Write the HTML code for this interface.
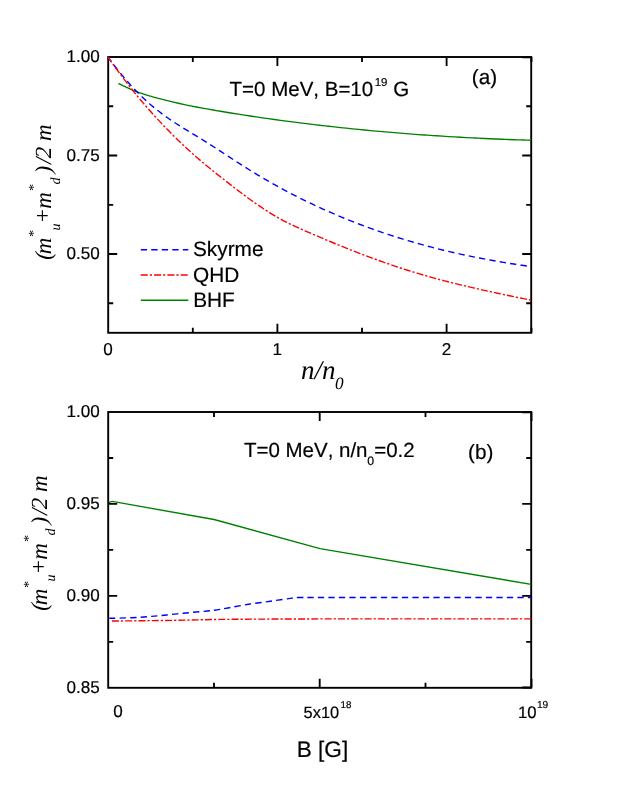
<!DOCTYPE html>
<html><head><meta charset="utf-8"><title>chart</title>
<style>
html,body{margin:0;padding:0;background:#fff;}
svg{display:block;will-change:transform;}
text{font-family:"Liberation Sans",sans-serif;fill:#000;font-kerning:none;text-rendering:geometricPrecision;stroke:#000;stroke-width:0.18px;}
.ser,.ser text{font-family:"Liberation Serif",serif;font-style:italic;font-weight:normal;stroke:none;}
.fr{fill:none;stroke:#000;stroke-width:1.9;stroke-linejoin:miter;}
.tk{stroke:#000;stroke-width:1.85;fill:none;}
.g{fill:none;stroke:#008000;stroke-width:1.35;}
.b{fill:none;stroke:#0000ff;stroke-width:1.4;stroke-dasharray:6.3 4.2;}
.r{fill:none;stroke:#ff0000;stroke-width:1.4;stroke-dasharray:7 2 2.2 2.1;}
</style></head><body>
<svg width="623" height="806" viewBox="0 0 623 806">
<rect x="0" y="0" width="623" height="806" fill="#fff"/>
<clipPath id="c1"><rect x="107.2" y="56.0" width="425.00000000000006" height="277.8"/></clipPath>
<rect class="fr" x="108.2" y="57.0" width="423.0" height="275.8"/>
<g clip-path="url(#c1)">
<path class="g" d="M118.40,83.34C119.40,83.86 122.40,85.46 124.40,86.43C126.40,87.40 128.40,88.30 130.40,89.16C132.40,90.02 134.40,90.81 136.40,91.57C138.40,92.33 140.40,93.03 142.40,93.71C144.40,94.39 146.40,95.02 148.40,95.63C150.40,96.24 152.40,96.81 154.40,97.36C156.40,97.91 158.40,98.44 160.40,98.96C162.40,99.48 164.40,99.98 166.40,100.47C168.40,100.96 170.40,101.44 172.40,101.90C174.40,102.37 176.40,102.82 178.40,103.26C180.40,103.70 182.40,104.14 184.40,104.56C186.40,104.98 188.40,105.39 190.40,105.79C192.40,106.19 194.40,106.59 196.40,106.98C198.40,107.37 200.40,107.74 202.40,108.11C204.40,108.48 206.40,108.84 208.40,109.20C210.40,109.56 212.40,109.91 214.40,110.25C216.40,110.59 218.40,110.94 220.40,111.27C222.40,111.60 224.40,111.93 226.40,112.26C228.40,112.59 230.40,112.91 232.40,113.23C234.40,113.55 236.40,113.87 238.40,114.18C240.40,114.50 242.40,114.81 244.40,115.12C246.40,115.43 248.40,115.73 250.40,116.03C252.40,116.33 254.40,116.62 256.40,116.92C258.40,117.22 260.40,117.51 262.40,117.80C264.40,118.09 266.40,118.38 268.40,118.66C270.40,118.94 272.40,119.22 274.40,119.50C276.40,119.78 278.40,120.05 280.40,120.32C282.40,120.59 284.40,120.86 286.40,121.12C288.40,121.39 290.40,121.65 292.40,121.91C294.40,122.17 296.40,122.42 298.40,122.67C300.40,122.92 302.40,123.18 304.40,123.43C306.40,123.68 308.40,123.92 310.40,124.16C312.40,124.40 314.40,124.64 316.40,124.88C318.40,125.11 320.40,125.34 322.40,125.57C324.40,125.80 326.40,126.03 328.40,126.26C330.40,126.49 332.40,126.70 334.40,126.92C336.40,127.14 338.40,127.36 340.40,127.57C342.40,127.78 344.40,127.99 346.40,128.20C348.40,128.41 350.40,128.62 352.40,128.82C354.40,129.02 356.40,129.22 358.40,129.42C360.40,129.62 362.40,129.81 364.40,130.00C366.40,130.19 368.40,130.38 370.40,130.57C372.40,130.76 374.40,130.94 376.40,131.12C378.40,131.30 380.40,131.48 382.40,131.66C384.40,131.84 386.40,132.01 388.40,132.18C390.40,132.35 392.40,132.52 394.40,132.68C396.40,132.84 398.40,133.01 400.40,133.17C402.40,133.33 404.40,133.48 406.40,133.64C408.40,133.79 410.40,133.95 412.40,134.10C414.40,134.25 416.40,134.40 418.40,134.55C420.40,134.70 422.40,134.84 424.40,134.98C426.40,135.12 428.40,135.25 430.40,135.39C432.40,135.52 434.40,135.66 436.40,135.79C438.40,135.92 440.40,136.05 442.40,136.18C444.40,136.31 446.40,136.43 448.40,136.55C450.40,136.67 452.40,136.79 454.40,136.91C456.40,137.03 458.40,137.14 460.40,137.25C462.40,137.36 464.40,137.47 466.40,137.58C468.40,137.69 470.40,137.79 472.40,137.89C474.40,137.99 476.40,138.10 478.40,138.20C480.40,138.30 482.40,138.40 484.40,138.49C486.40,138.58 488.40,138.67 490.40,138.76C492.40,138.85 494.40,138.94 496.40,139.02C498.40,139.11 500.40,139.19 502.40,139.27C504.40,139.35 506.40,139.43 508.40,139.51C510.40,139.59 512.40,139.66 514.40,139.73C516.40,139.80 518.40,139.87 520.40,139.94C522.40,140.01 524.58,140.08 526.40,140.14C528.22,140.20 530.48,140.26 531.30,140.29"/>
<path class="b" d="M107.50,56.59C108.50,57.91 111.50,61.93 113.50,64.51C115.50,67.09 117.50,69.62 119.50,72.07C121.50,74.52 123.50,76.91 125.50,79.23C127.50,81.55 129.50,83.80 131.50,85.98C133.50,88.16 135.50,90.28 137.50,92.31C139.50,94.34 141.50,96.30 143.50,98.19C145.50,100.08 147.50,101.91 149.50,103.66C151.50,105.41 153.50,107.10 155.50,108.72C157.50,110.34 159.50,111.90 161.50,113.40C163.50,114.91 165.50,116.35 167.50,117.75C169.50,119.15 171.50,120.50 173.50,121.82C175.50,123.14 177.50,124.42 179.50,125.68C181.50,126.94 183.50,128.18 185.50,129.40C187.50,130.62 189.50,131.82 191.50,133.03C193.50,134.24 195.50,135.44 197.50,136.65C199.50,137.87 201.50,139.08 203.50,140.32C205.50,141.56 207.50,142.82 209.50,144.10C211.50,145.38 213.50,146.67 215.50,147.97C217.50,149.27 219.50,150.59 221.50,151.90C223.50,153.21 225.50,154.54 227.50,155.85C229.50,157.16 231.50,158.48 233.50,159.78C235.50,161.08 237.50,162.38 239.50,163.66C241.50,164.94 243.50,166.22 245.50,167.47C247.50,168.72 249.50,169.96 251.50,171.18C253.50,172.40 255.50,173.62 257.50,174.81C259.50,176.00 261.50,177.18 263.50,178.35C265.50,179.52 267.50,180.67 269.50,181.81C271.50,182.95 273.50,184.08 275.50,185.19C277.50,186.30 279.50,187.40 281.50,188.48C283.50,189.56 285.50,190.63 287.50,191.69C289.50,192.75 291.50,193.79 293.50,194.82C295.50,195.85 297.50,196.87 299.50,197.87C301.50,198.88 303.50,199.87 305.50,200.85C307.50,201.83 309.50,202.79 311.50,203.74C313.50,204.69 315.50,205.63 317.50,206.56C319.50,207.49 321.50,208.41 323.50,209.31C325.50,210.21 327.50,211.10 329.50,211.98C331.50,212.86 333.50,213.73 335.50,214.58C337.50,215.44 339.50,216.28 341.50,217.11C343.50,217.94 345.50,218.75 347.50,219.56C349.50,220.37 351.50,221.16 353.50,221.95C355.50,222.73 357.50,223.51 359.50,224.27C361.50,225.03 363.50,225.78 365.50,226.52C367.50,227.26 369.50,227.99 371.50,228.71C373.50,229.43 375.50,230.13 377.50,230.83C379.50,231.53 381.50,232.21 383.50,232.89C385.50,233.56 387.50,234.23 389.50,234.88C391.50,235.53 393.50,236.18 395.50,236.81C397.50,237.44 399.50,238.07 401.50,238.69C403.50,239.31 405.50,239.91 407.50,240.50C409.50,241.09 411.50,241.69 413.50,242.26C415.50,242.83 417.50,243.39 419.50,243.95C421.50,244.51 423.50,245.06 425.50,245.60C427.50,246.14 429.50,246.67 431.50,247.19C433.50,247.71 435.50,248.22 437.50,248.72C439.50,249.22 441.50,249.71 443.50,250.20C445.50,250.69 447.50,251.16 449.50,251.63C451.50,252.10 453.50,252.56 455.50,253.01C457.50,253.46 459.50,253.90 461.50,254.34C463.50,254.78 465.50,255.21 467.50,255.63C469.50,256.05 471.50,256.46 473.50,256.86C475.50,257.26 477.50,257.66 479.50,258.05C481.50,258.44 483.50,258.82 485.50,259.20C487.50,259.57 489.50,259.94 491.50,260.30C493.50,260.66 495.50,261.01 497.50,261.36C499.50,261.71 501.50,262.05 503.50,262.38C505.50,262.71 507.50,263.04 509.50,263.36C511.50,263.68 513.50,263.99 515.50,264.30C517.50,264.61 519.50,264.91 521.50,265.20C523.50,265.49 526.32,265.90 527.50,266.06C528.68,266.22 528.42,266.13 528.60,266.15"/>
<path class="r" d="M107.50,56.59C108.50,57.98 111.50,62.20 113.50,64.95C115.50,67.70 117.50,70.43 119.50,73.12C121.50,75.81 123.50,78.47 125.50,81.08C127.50,83.69 129.50,86.27 131.50,88.79C133.50,91.32 135.50,93.80 137.50,96.23C139.50,98.66 141.50,101.05 143.50,103.39C145.50,105.73 147.50,108.03 149.50,110.29C151.50,112.55 153.50,114.77 155.50,116.95C157.50,119.13 159.50,121.27 161.50,123.38C163.50,125.49 165.50,127.57 167.50,129.61C169.50,131.65 171.50,133.65 173.50,135.63C175.50,137.61 177.50,139.56 179.50,141.48C181.50,143.40 183.50,145.28 185.50,147.14C187.50,149.00 189.50,150.82 191.50,152.62C193.50,154.42 195.50,156.19 197.50,157.94C199.50,159.69 201.50,161.40 203.50,163.09C205.50,164.78 207.50,166.44 209.50,168.08C211.50,169.72 213.50,171.34 215.50,172.94C217.50,174.54 219.50,176.12 221.50,177.70C223.50,179.27 225.50,180.83 227.50,182.39C229.50,183.94 231.50,185.49 233.50,187.03C235.50,188.57 237.50,190.10 239.50,191.61C241.50,193.12 243.50,194.64 245.50,196.12C247.50,197.60 249.50,199.06 251.50,200.50C253.50,201.94 255.50,203.36 257.50,204.74C259.50,206.12 261.50,207.47 263.50,208.79C265.50,210.10 267.50,211.39 269.50,212.63C271.50,213.87 273.50,215.07 275.50,216.23C277.50,217.39 279.50,218.50 281.50,219.58C283.50,220.66 285.50,221.69 287.50,222.69C289.50,223.69 291.50,224.65 293.50,225.60C295.50,226.55 297.50,227.47 299.50,228.37C301.50,229.28 303.50,230.15 305.50,231.03C307.50,231.91 309.50,232.77 311.50,233.63C313.50,234.49 315.50,235.35 317.50,236.20C319.50,237.05 321.50,237.90 323.50,238.74C325.50,239.58 327.50,240.43 329.50,241.26C331.50,242.09 333.50,242.92 335.50,243.74C337.50,244.56 339.50,245.38 341.50,246.19C343.50,247.00 345.50,247.80 347.50,248.60C349.50,249.40 351.50,250.19 353.50,250.98C355.50,251.76 357.50,252.54 359.50,253.31C361.50,254.08 363.50,254.84 365.50,255.60C367.50,256.36 369.50,257.10 371.50,257.84C373.50,258.58 375.50,259.32 377.50,260.04C379.50,260.76 381.50,261.48 383.50,262.18C385.50,262.88 387.50,263.58 389.50,264.27C391.50,264.96 393.50,265.64 395.50,266.31C397.50,266.98 399.50,267.64 401.50,268.29C403.50,268.94 405.50,269.59 407.50,270.22C409.50,270.86 411.50,271.49 413.50,272.10C415.50,272.72 417.50,273.31 419.50,273.91C421.50,274.51 423.50,275.10 425.50,275.68C427.50,276.26 429.50,276.83 431.50,277.39C433.50,277.95 435.50,278.50 437.50,279.04C439.50,279.58 441.50,280.11 443.50,280.63C445.50,281.15 447.50,281.67 449.50,282.17C451.50,282.68 453.50,283.17 455.50,283.66C457.50,284.15 459.50,284.63 461.50,285.11C463.50,285.59 465.50,286.06 467.50,286.52C469.50,286.98 471.50,287.44 473.50,287.90C475.50,288.35 477.50,288.80 479.50,289.25C481.50,289.70 483.50,290.14 485.50,290.58C487.50,291.02 489.50,291.45 491.50,291.89C493.50,292.33 495.50,292.77 497.50,293.20C499.50,293.63 501.50,294.06 503.50,294.49C505.50,294.92 507.50,295.34 509.50,295.76C511.50,296.18 513.50,296.60 515.50,297.01C517.50,297.42 519.50,297.83 521.50,298.23C523.50,298.63 525.88,299.10 527.50,299.42C529.12,299.74 530.58,300.02 531.20,300.14"/>
</g>
<path class="tk" d="M192.8,332.8v-5.0M192.8,57.0v5.0M277.4,332.8v-9.0M277.4,57.0v9.0M362.0,332.8v-5.0M362.0,57.0v5.0M446.6,332.8v-9.0M446.6,57.0v9.0M108.2,106.2h5.0M531.2,106.2h-5.0M108.2,155.5h9.0M531.2,155.5h-9.0M108.2,204.8h5.0M531.2,204.8h-5.0M108.2,254.0h9.0M531.2,254.0h-9.0M108.2,303.2h5.0M531.2,303.2h-5.0M531.5,332.8v-5.0M531.5,57.0v5.0M531.2,57.3h-9.0"/>
<text x="99.7" y="62.3" font-size="17.1" text-anchor="end">1.00</text>
<text x="99.7" y="160.8" font-size="17.1" text-anchor="end">0.75</text>
<text x="99.7" y="259.3" font-size="17.1" text-anchor="end">0.50</text>
<text x="108.1" y="355.0" font-size="17.1" text-anchor="middle">0</text>
<text x="277.3" y="355.0" font-size="17.1" text-anchor="middle">1</text>
<text x="446.5" y="355.0" font-size="17.1" text-anchor="middle">2</text>
<text x="229.6" y="96.3" font-size="20.5">T=0 MeV, B=10<tspan font-size="11.5" dy="-10.3" dx="1.5">19</tspan><tspan dy="10.3" dx="0"> G</tspan></text>
<text x="471.8" y="83.9" font-size="20.7">(a)</text>
<path class="b" d="M140.8,249.7H188.3"/>
<path class="r" d="M140.8,275H188.3"/>
<path class="g" d="M140.8,300.2H188.3"/>
<text x="193.0" y="256.3" font-size="20.8">Skyrme</text>
<text x="193.0" y="281.6" font-size="20.8">QHD</text>
<text x="193.2" y="306.5" font-size="20.8">BHF</text>
<text class="ser" x="301.1" y="378.5" font-size="27">n/n<tspan font-size="17.2" dy="10.2" dx="-0.5">0</tspan></text>
<g class="ser" transform="translate(51.0,0.0) rotate(-90)"><text x="-259.80" y="0" font-size="23">(</text><text x="-254.30" y="0" font-size="23">m</text><text x="-237.60" y="-13.3" font-size="14">*</text><text x="-230.55" y="8.6" font-size="14">u</text><text x="-223.60" y="-0.7" font-size="23">+</text><text x="-208.70" y="0" font-size="23">m</text><text x="-191.60" y="-13.3" font-size="14">*</text><text x="-184.50" y="8.6" font-size="14">d</text><text x="-173.50" y="0" font-size="23">)</text><text x="-163.90" y="0" font-size="23">/</text><text x="-158.25" y="0" font-size="23">2</text><text x="-141.10" y="0" font-size="23">m</text></g>
<clipPath id="c2"><rect x="107.2" y="411.0" width="425.00000000000006" height="277.79999999999995"/></clipPath>
<rect class="fr" x="108.2" y="412.0" width="423.0" height="275.8"/>
<g clip-path="url(#c2)">
<polyline class="g" points="108.9,502.7 110.5,501.8 112.3,501.4 214.1,519.5 320.0,548.6 531.2,584.4"/>
<path class="b" d="M109.20,618.30C110.88,618.27 114.42,618.25 119.30,618.10C124.18,617.95 132.08,617.78 138.50,617.40C144.92,617.02 151.37,616.38 157.80,615.80C164.23,615.22 170.68,614.53 177.10,613.90C183.52,613.27 190.15,612.60 196.30,612.00C202.45,611.40 208.50,611.02 214.00,610.30C219.50,609.58 223.55,608.70 229.30,607.70C235.05,606.70 242.08,605.32 248.50,604.30C254.92,603.28 261.88,602.43 267.80,601.60C273.72,600.77 279.97,599.88 284.00,599.30C288.03,598.72 289.67,598.39 292.00,598.10C294.33,597.81 295.83,597.65 298.00,597.55C300.17,597.45 303.83,597.51 305.00,597.50L531.2,597.5"/>
<polyline class="r" points="111.9,621.0 138.5,620.8 177.1,620.3 220.0,619.4 260.0,619.1 320.0,618.9 531.2,618.9"/>
</g>
<path class="tk" d="M214.0,687.8v-5.0M214.0,412.0v5.0M319.7,687.8v-9.0M319.7,412.0v9.0M425.5,687.8v-5.0M425.5,412.0v5.0M108.2,458.0h5.0M531.2,458.0h-5.0M108.2,503.9h9.0M531.2,503.9h-9.0M108.2,549.9h5.0M531.2,549.9h-5.0M108.2,595.9h9.0M531.2,595.9h-9.0M108.2,641.8h5.0M531.2,641.8h-5.0M531.5,687.8v-9.0M531.5,412.0v9.0M531.2,412.3h-9.0M531.2,687.45h-9.0"/>
<text x="99.7" y="417.3" font-size="17.1" text-anchor="end">1.00</text>
<text x="99.7" y="509.2" font-size="17.1" text-anchor="end">0.95</text>
<text x="99.7" y="601.2" font-size="17.1" text-anchor="end">0.90</text>
<text x="99.7" y="693.1" font-size="17.1" text-anchor="end">0.85</text>
<text x="118.1" y="717.1" font-size="17.1" text-anchor="middle">0</text>
<text x="303.6" y="717.5" font-size="16.4">5x10<tspan font-size="9.8" dy="-9.2" dx="1.3">18</tspan></text>
<text x="518.0" y="717.5" font-size="16.7">10<tspan font-size="10.2" dy="-9.6" dx="0.4">19</tspan></text>
<text x="296.7" y="756.9" font-size="22.6">B [G]</text>
<text x="243.9" y="457.3" font-size="20.5">T=0 MeV, n/n<tspan font-size="12.3" dy="7.7" dx="-0.3">0</tspan><tspan dy="-7.7" dx="0.1">=0.2</tspan></text>
<text x="468.0" y="459.0" font-size="20.7">(b)</text>
<g class="ser" transform="translate(46.5,351.0) rotate(-90)"><text x="-259.80" y="0" font-size="23">(</text><text x="-254.30" y="0" font-size="23">m</text><text x="-237.60" y="-13.3" font-size="14">*</text><text x="-230.55" y="8.6" font-size="14">u</text><text x="-223.60" y="-0.7" font-size="23">+</text><text x="-208.70" y="0" font-size="23">m</text><text x="-191.60" y="-13.3" font-size="14">*</text><text x="-184.50" y="8.6" font-size="14">d</text><text x="-173.50" y="0" font-size="23">)</text><text x="-163.90" y="0" font-size="23">/</text><text x="-158.25" y="0" font-size="23">2</text><text x="-141.10" y="0" font-size="23">m</text></g>
</svg></body></html>
